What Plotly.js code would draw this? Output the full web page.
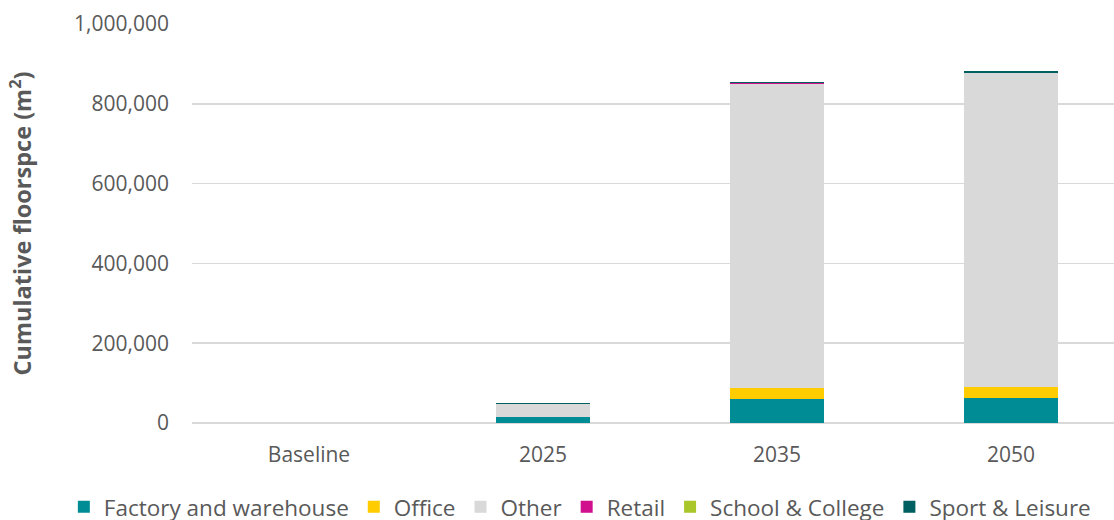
<!DOCTYPE html>
<html>
<head>
<meta charset="utf-8">
<script src="https://cdn.plot.ly/plotly-3.0.1.min.js"></script>
<style>
	html, body { margin: 0; padding: 0; background: #fff; }
	#chart { width: 1114px; height: 520px; }
</style>
</head>
<body>
<div id="chart"></div>
<script>
// --- DONNÉES --- //
const years = ['Baseline', '2025', '2035', '2050'];
const factory = [0, 15000, 59000, 62000];
const office = [0, 1000, 29500, 29000];
const other = [0, 31500, 761500, 787000];
const retail = [0, 800, 2000, 0];
const school = [0, 0, 0, 0];
const sport = [0, 1000, 2000, 3500];

const seriesNames = ['Factory and warehouse', 'Office', 'Other', 'Retail', 'School & College', 'Sport & Leisure'];
const seriesValues = [factory, office, other, retail, school, sport];
const seriesColors = ['#008C95', '#FFCC00', '#D9D9D9', '#D0108C', '#A9C62B', '#005F61'];

const font = '"Open Sans", "DejaVu Sans", sans-serif';

const traces = seriesNames.map((n, i) => ({
	type: 'bar',
	name: n,
	x: years,
	y: seriesValues[i],
	marker: { color: seriesColors[i], line: { width: 0 } },
	hoverinfo: 'skip'
}));

Plotly.newPlot('chart', traces, {
	width: 1114,
	height: 520,
	barmode: 'stack',
	bargap: 0.6,
	margin: { l: 192, r: 0, t: 24, b: 97, autoexpand: false },
	paper_bgcolor: '#fff',
	plot_bgcolor: '#fff',
	font: { family: font, color: '#595959', size: 20 },
	xaxis: {
		type: 'category',
		categoryorder: 'array',
		categoryarray: years,
		range: [-0.5, 3.44],
		showgrid: false,
		showline: false,
		ticks: '',
		ticklabelstandoff: 17,
		tickfont: { size: 21, color: '#595959' }
	},
	yaxis: {
		range: [0, 1000000],
		tickvals: [0, 200000, 400000, 600000, 800000, 1000000],
		tickformat: ',d',
		gridcolor: '#D9D9D9',
		gridwidth: 1.5,
		zeroline: true,
		zerolinecolor: '#D9D9D9',
		zerolinewidth: 1.5,
		ticks: '',
		ticklabelstandoff: 22,
		tickfont: { size: 21, color: '#595959' },
		title: {
			text: '<b>Cumulative floorspce (m<sup>2</sup>)</b>',
			font: { size: 23.5, color: '#595959' },
			standoff: 35
		}
	},
	showlegend: true,
	legend: {
		orientation: 'h',
		traceorder: 'normal',
		x: -0.139,
		xanchor: 'left',
		y: -0.157,
		yanchor: 'top',
		font: { size: 22.5, color: '#595959' }
	}
}, { displayModeBar: false, staticPlot: true });
</script>
</body>
</html>
